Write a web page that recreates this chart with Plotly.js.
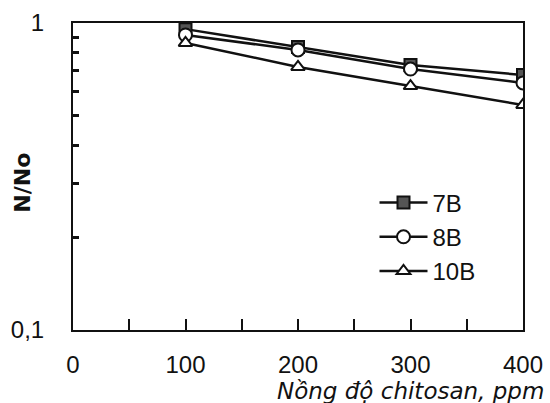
<!DOCTYPE html>
<html><head><meta charset="utf-8">
<script src="https://cdn.plot.ly/plotly-3.0.1.min.js"></script>
<style>html,body{margin:0;padding:0;background:#fff}#c{width:550px;height:403px}</style>
</head><body><div id="c"></div>
<script>
const conc = [100, 200, 300, 400];
const s7B = [0.955, 0.835, 0.73, 0.677];
const s8B = [0.914, 0.817, 0.708, 0.638];
const s10B = [0.861, 0.719, 0.623, 0.541];
const seriesNames = ['7B', '8B', '10B'];
const xTicks = [0, 100, 200, 300, 400];
const yTickVals = [0.1, 1];
const yTickText = ['0,1', '1'];
const yMinor = [0.2, 0.3, 0.4, 0.5, 0.6, 0.7, 0.8, 0.9];
const xMinor = [50, 100, 150, 200, 250, 300, 350];

const font = 'Liberation Sans, DejaVu Sans, sans-serif';
const line = {color: '#111', width: 2.5};
const traces = [
  {x: conc, y: s7B, name: seriesNames[0], mode: 'lines+markers', line,
   marker: {symbol: 'square', size: 12, color: '#555', line: {color: '#111', width: 2}}},
  {x: conc, y: s8B, name: seriesNames[1], mode: 'lines+markers', line,
   marker: {symbol: 'circle', size: 13, color: '#fff', line: {color: '#111', width: 2}}},
  {x: conc, y: s10B, name: seriesNames[2], mode: 'lines+markers', line,
   marker: {symbol: 'triangle-up', size: 12, color: '#fff', line: {color: '#111', width: 2}}}
];
const layout = {
  width: 550, height: 403,
  margin: {l: 73, r: 27, t: 23, b: 73},
  paper_bgcolor: '#fff', plot_bgcolor: '#fff',
  font: {family: font, color: '#111', size: 24},
  separators: ',.',
  showlegend: true,
  legend: {x: 0.67, y: 0.487, xanchor: 'left', yanchor: 'top', bgcolor: 'rgba(0,0,0,0)',
           font: {size: 24, family: font}, itemwidth: 48, tracegroupgap: 0},
  xaxis: {range: [0, 400], tickvals: xTicks, ticks: '', showgrid: false, zeroline: false,
          showline: true, linecolor: '#111', linewidth: 2, mirror: true,
          tickfont: {size: 24}, ticklabelstandoff: 12,
          minor: {tickvals: xMinor, ticks: 'inside', ticklen: 11, tickwidth: 2, tickcolor: '#111', showgrid: false}},
  yaxis: {type: 'log', range: [-1, 0], tickvals: yTickVals, ticktext: yTickText, ticks: '',
          showgrid: false, zeroline: false, showline: true, linecolor: '#111', linewidth: 2, mirror: true,
          tickfont: {size: 24}, ticklabelstandoff: 22,
          minor: {tickvals: yMinor, ticks: 'inside', ticklen: 6, tickwidth: 3, tickcolor: '#111', showgrid: false}},
  annotations: [
    {text: '<i>Nồng độ chitosan, ppm</i>', xref: 'paper', yref: 'paper', x: 1.05, y: -0.2,
     xanchor: 'right', yanchor: 'middle', showarrow: false, font: {size: 23, family: 'DejaVu Sans, sans-serif'}},
    {text: '<b>N/No</b>', xref: 'paper', yref: 'paper', x: -0.111, y: 0.48, textangle: -90,
     xanchor: 'center', yanchor: 'middle', showarrow: false, font: {size: 22, family: 'DejaVu Sans, sans-serif'}}
  ]
};
Plotly.newPlot('c', traces, layout, {displayModeBar: false, staticPlot: true});
</script></body></html>
